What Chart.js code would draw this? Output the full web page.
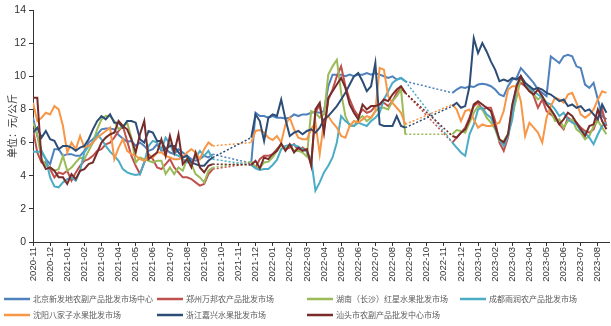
<!DOCTYPE html>
<html>
<head>
<meta charset="utf-8">
<script src="https://cdn.jsdelivr.net/npm/chart.js@4.4.1/dist/chart.umd.min.js"></script>
<style>
html,body{margin:0;padding:0;background:#fff;}
#wrap{width:611px;height:326px;position:relative;}
</style>
</head>
<body>
<div id="wrap"><canvas id="c" width="611" height="326"></canvas></div>
<script>
// Month tick labels (category positions along x, one per month)
const monthLabels = ['2020-11','2020-12','2021-01','2021-02','2021-03','2021-04','2021-05','2021-06','2021-07','2021-08','2021-09','2021-10','2021-11','2021-12','2022-01','2022-02','2022-03','2022-04','2022-05','2022-06','2022-07','2022-08','2022-09','2022-10','2022-11','2022-12','2023-01','2023-02','2023-03','2023-04','2023-05','2023-06','2023-07','2023-08'];
const pointsPerMonth = 4; // weekly-ish samples
const yTickValues = [0, 2, 4, 6, 8, 10, 12, 14];
const yTitle = '单位：元/公斤';

const seriesNames = ['北京新发地农副产品批发市场中心','郑州万邦农产品批发市场','湖南（长沙）红星水果批发市场','成都雨润农产品批发市场','沈阳八家子水果批发市场','浙江嘉兴水果批发市场','汕头市农副产品批发中心市场'];
const seriesColors = ['#4F81BD','#C0504D','#9BBB59','#4BACC6','#F79646','#2C4D75','#772C2A'];

const G8 = [null,null,null,null,null,null,null,null];
const G10 = [null,null,null,null,null,null,null,null,null,null];

const beijingValues = [
7.5,6.4,5.5,5.0,4.7,5.6,5.6,5.2,5.3,5.3,5.2,5.2,5.5,6.0,6.2,6.5,6.8,6.85,6.85,6.8,6.45,6.25,6.05,6.1,5.8,6.0,5.8,5.5,5.6,5.9,5.5,5.6,5.4,5.3,5.6,5.4,5.2,5.0,4.9,5.0,5.2,5.1,5.3,
...G8,
4.75,7.8,7.6,7.6,7.5,7.6,7.5,7.5,7.45,7.5,7.7,7.6,7.7,7.7,7.8,7.85,7.8,7.9,9.4,10.1,10.1,10.1,10.0,10.1,10.0,10.1,10.1,10.2,10.1,10.2,10.1,10.0,9.9,10.0,9.8,9.9,9.7,
...G10,
9.0,9.2,9.35,9.3,9.4,9.35,9.5,9.55,9.5,9.4,9.2,8.9,8.8,9.4,9.8,9.9,10.5,10.2,9.9,9.6,9.2,9.0,8.8,11.2,11.0,10.8,11.2,11.3,11.2,10.6,10.5,9.5,9.3,9.6,8.6,7.6,7.4];

const zhengzhouValues = [
6.8,5.4,4.8,4.8,4.4,3.9,4.2,4.1,4.3,3.7,4.2,4.6,4.9,5.0,5.2,5.5,5.6,5.9,6.0,6.3,6.7,7.0,6.1,5.2,4.6,4.1,4.8,5.3,5.0,4.5,4.4,4.7,5.0,4.5,4.2,3.9,3.9,3.8,3.6,3.4,3.5,4.1,4.4,
...G8,
4.75,4.5,5.0,5.2,5.2,5.3,5.6,5.9,5.6,5.7,5.9,5.5,5.7,5.5,4.7,7.8,8.3,6.8,8.6,9.2,10.0,10.6,9.4,8.6,8.0,7.6,8.0,7.8,7.9,8.2,8.3,8.4,8.2,8.5,9.0,9.3,9.0,
...G10,
6.0,6.3,6.6,6.9,7.5,8.2,8.4,8.0,8.1,8.1,7.3,6.0,5.5,6.3,8.1,9.3,9.6,9.4,9.4,8.8,8.1,8.6,7.9,7.7,7.5,7.1,6.8,7.5,7.3,7.2,6.9,6.7,6.6,6.8,7.5,8.0,7.0];

const hunanValues = [
7.2,6.5,5.0,4.6,4.5,4.3,4.4,5.2,4.3,4.5,4.8,5.1,5.0,5.5,6.0,6.8,7.4,7.6,7.6,7.3,6.8,7.0,7.2,6.3,4.8,5.1,5.0,4.9,4.8,4.9,4.9,4.1,4.5,4.1,4.5,4.3,5.0,4.7,4.1,3.9,3.6,4.3,4.5,
...G8,
4.85,4.5,4.45,4.8,4.85,5.1,5.5,5.85,5.6,5.85,5.5,5.5,5.4,5.15,7.9,7.8,7.5,7.7,10.1,10.6,11.0,9.0,7.6,7.0,7.0,7.4,7.6,7.3,7.5,7.9,8.1,8.1,8.0,8.5,8.8,9.2,6.5,
...G10,
6.5,6.75,6.7,6.6,7.2,7.8,8.2,8.0,7.5,7.2,6.8,6.1,6.1,6.5,7.6,8.7,9.9,9.5,9.1,8.9,8.6,8.8,8.4,7.9,7.3,7.4,6.9,7.3,7.4,6.8,6.6,6.2,6.4,7.0,7.3,6.9,6.5];

const chengduValues = [
5.45,5.45,5.45,5.0,3.9,3.35,3.3,3.6,3.8,3.9,3.7,4.3,5.4,5.8,6.0,6.5,6.2,5.8,5.45,5.2,4.9,4.4,4.2,4.1,4.05,4.1,4.8,5.8,6.1,6.0,5.6,6.3,5.9,5.3,5.2,5.0,4.8,4.9,5.1,5.5,5.2,5.5,5.0,
...G8,
4.65,4.45,4.35,4.4,4.4,4.65,4.95,5.6,5.8,5.85,5.85,5.75,5.6,5.45,5.0,3.1,3.6,4.2,4.6,5.1,6.0,7.6,7.3,7.1,7.0,7.2,7.1,7.0,7.3,7.5,7.8,8.6,9.1,9.6,9.8,9.9,9.7,
...G10,
6.0,5.7,5.4,5.2,6.5,7.1,8.0,8.1,7.7,7.5,6.9,6.2,5.8,6.4,7.4,9.5,10.0,9.6,9.3,9.1,8.9,8.7,8.4,8.3,8.0,7.6,7.8,7.4,7.2,7.1,6.7,6.6,6.3,5.9,6.5,7.0,7.2];

const shenyangValues = [
8.4,7.3,7.5,7.8,7.7,8.2,8.0,7.0,5.4,6.0,5.6,6.4,5.7,5.8,6.0,6.3,6.5,6.7,6.9,5.0,5.7,6.2,5.5,5.3,5.2,5.0,4.9,5.2,5.1,5.4,5.4,5.2,5.1,5.0,5.0,5.1,5.4,5.6,5.4,5.0,5.6,6.0,5.8,
...G8,
6.0,6.7,6.75,6.6,6.3,6.15,6.4,6.0,7.1,7.5,6.8,6.3,6.2,6.2,6.8,7.2,5.3,7.3,7.6,7.2,6.9,6.4,6.3,7.0,7.3,7.2,7.4,7.6,7.5,7.9,10.5,10.4,8.8,8.4,8.1,7.8,7.1,
...G10,
8.3,8.0,7.3,7.9,8.0,7.4,6.9,7.1,7.0,7.0,7.1,7.2,7.9,9.2,9.4,9.4,8.5,6.4,7.2,6.9,6.6,6.0,7.5,8.2,8.7,8.6,8.4,8.9,9.0,8.4,7.7,7.5,7.7,8.0,8.6,9.1,9.0];

const jiaxingValues = [
6.6,6.9,6.3,6.7,6.2,6.1,5.6,5.8,5.8,5.7,5.5,5.7,5.8,6.2,6.8,7.3,7.6,7.4,7.7,7.2,7.2,6.9,7.3,7.3,7.2,6.2,6.0,6.7,6.6,6.1,6.1,5.6,5.8,5.8,5.4,5.1,5.2,4.8,4.7,4.6,4.6,4.9,5.1,
...G8,
6.3,7.7,7.3,6.1,7.5,7.7,7.6,8.6,7.4,6.4,6.6,6.7,6.5,6.7,6.8,6.6,6.9,7.4,7.6,7.9,8.2,8.6,9.0,9.5,10.0,10.2,9.7,9.1,9.4,10.8,7.1,7.0,7.0,7.0,7.6,7.0,6.9,
...G10,
8.2,8.4,8.1,8.2,9.4,12.3,11.4,12.0,11.5,10.9,10.4,9.7,9.8,9.7,9.9,9.8,10.0,9.6,9.4,9.2,9.3,9.2,9.0,8.9,8.7,8.5,8.6,8.2,8.3,8.1,8.2,7.9,8.0,7.7,7.4,8.3,7.8];

const shantouValues = [
8.7,8.7,4.9,4.4,4.5,4.3,3.9,3.9,3.5,4.1,3.8,4.3,4.4,4.7,4.8,5.4,6.0,6.3,6.5,6.6,7.3,7.0,6.8,6.2,5.4,6.5,7.3,5.0,5.2,5.4,6.2,5.2,6.4,5.4,6.5,4.7,5.0,4.5,5.4,4.5,4.2,4.6,4.7,
...G8,
4.65,4.9,4.45,5.1,5.0,5.3,5.5,5.95,5.5,5.9,5.4,5.7,5.5,5.6,4.6,8.0,8.4,6.6,8.7,9.1,9.5,9.9,9.3,8.3,7.8,7.4,8.3,8.0,8.2,8.2,8.3,8.6,8.5,8.9,9.2,9.4,9.0,
...G10,
6.4,6.3,6.6,6.8,7.4,8.3,8.5,8.3,8.1,7.9,7.0,6.2,6.0,6.5,8.3,9.4,10.0,9.4,9.1,8.9,9.2,8.8,8.3,8.0,7.6,7.1,7.4,7.8,7.6,7.2,6.8,6.4,7.0,7.1,8.0,7.3,6.8];

const allSeries = [beijingValues, zhengzhouValues, hunanValues, chengduValues, shenyangValues, jiaxingValues, shantouValues];

function toPoints(values) {
  const pts = [];
  values.forEach((v, i) => { if (v !== null && v !== undefined) pts.push({x: i / pointsPerMonth, y: v}); });
  return pts;
}

const datasets = allSeries.map((vals, k) => ({
  label: seriesNames[k],
  data: toPoints(vals),
  borderColor: seriesColors[k],
  backgroundColor: seriesColors[k],
  borderWidth: 2,
  pointRadius: 0,
  tension: 0,
  fill: false,
  order: seriesNames.length - 1 - k,
  segment: {
    borderDash: ctx => (ctx.p1.parsed.x - ctx.p0.parsed.x > 0.5 ? [2, 2] : undefined),
    borderWidth: ctx => (ctx.p1.parsed.x - ctx.p0.parsed.x > 0.5 ? 1.5 : undefined)
  }
}));

const FONT = '"Liberation Sans", Arial, sans-serif';
const CJK = '"Noto Sans CJK SC", "Noto Sans", sans-serif';

const extrasPlugin = {
  id: 'extras',
  afterDraw(chart) {
    const ctx = chart.ctx;
    const area = chart.chartArea;
    ctx.save();
    // y axis title
    ctx.fillStyle = '#333333';
    ctx.font = '10px ' + CJK;
    ctx.textAlign = 'center';
    ctx.textBaseline = 'middle';
    ctx.translate(12, (area.top + area.bottom) / 2);
    ctx.rotate(-Math.PI / 2);
    ctx.fillText(yTitle, 0, 0);
    ctx.restore();

    // grid legend
    ctx.save();
    ctx.font = '8px ' + CJK;
    ctx.textAlign = 'left';
    ctx.textBaseline = 'middle';
    const cols = [4, 157, 307, 460];
    const rows = [299, 315];
    seriesNames.forEach((name, k) => {
      const cx = cols[k % 4];
      const cy = rows[Math.floor(k / 4)];
      ctx.strokeStyle = seriesColors[k];
      ctx.lineWidth = 2.5;
      ctx.beginPath();
      ctx.moveTo(cx, cy);
      ctx.lineTo(cx + 26, cy);
      ctx.stroke();
      ctx.fillStyle = '#595959';
      ctx.fillText(name, cx + 29, cy);
    });
    ctx.restore();
  }
};

new Chart(document.getElementById('c'), {
  type: 'line',
  data: { datasets },
  options: {
    responsive: false,
    devicePixelRatio: 1,
    animation: false,
    layout: { padding: { top: 10, right: 2, bottom: 44, left: 0 } },
    plugins: { legend: { display: false }, tooltip: { enabled: false }, title: { display: false } },
    scales: {
      x: {
        type: 'linear',
        min: 0,
        max: 33.65,
        afterFit: s => { s.height = 40; },
        afterBuildTicks: s => { s.ticks = monthLabels.map((_, i) => ({ value: i })); },
        ticks: {
          autoSkip: false,
          minRotation: 90,
          maxRotation: 90,
          padding: 1,
          color: '#333333',
          font: { family: FONT, size: 9.5 },
          callback: v => monthLabels[v]
        },
        grid: { display: true, drawOnChartArea: false, drawTicks: true, tickLength: 4, color: '#333333' },
        border: { display: true, color: '#333333', width: 1 }
      },
      y: {
        min: 0,
        max: 14,
        afterFit: s => { s.width = 33; },
        afterBuildTicks: s => { s.ticks = yTickValues.map(v => ({ value: v })); },
        ticks: {
          padding: 3,
          color: '#333333',
          font: { family: FONT, size: 10.5 }
        },
        grid: { display: true, drawOnChartArea: false, drawTicks: true, tickLength: 4, color: '#333333' },
        border: { display: true, color: '#333333', width: 1 }
      }
    }
  },
  plugins: [extrasPlugin]
});
</script>
</body>
</html>
